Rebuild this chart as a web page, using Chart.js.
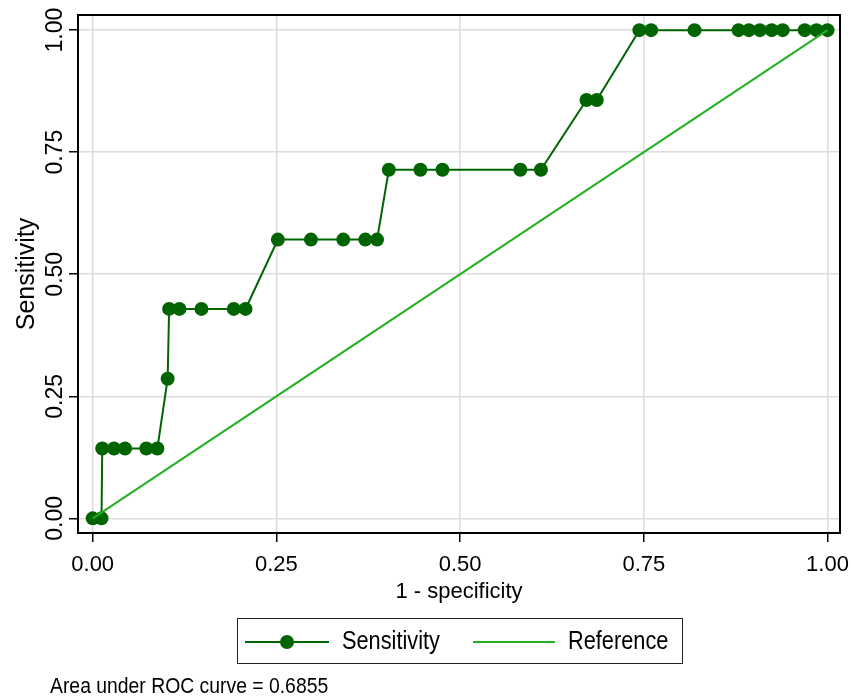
<!DOCTYPE html>
<html>
<head>
<meta charset="utf-8">
<script src="https://cdn.jsdelivr.net/npm/chart.js@4.4.1/dist/chart.umd.min.js"></script>
<style>
  body { margin: 0; background: #fff; }
  #wrap { position: relative; width: 851px; height: 699px; }
  .narrow { font-family: "Liberation Sans", Arial, sans-serif; color: #000; }
  #legend {
    position: absolute; left: 237px; top: 618px; width: 444px; height: 44px;
    border: 1.5px solid #222;
  }
  #legend .ln { position: absolute; top: 22px; height: 2px; }
  #legend .dot { position: absolute; width: 14px; height: 14px; border-radius: 50%; background: #006400; top: -6px; left: 35px; }
  #legend .txt {
    position: absolute; top: 6px; font-size: 25px; line-height: 30px;
    transform: scaleX(0.87); transform-origin: left center; white-space: nowrap;
  }
  #note {
    position: absolute; left: 50px; top: 673px; font-size: 22px; line-height: 26px;
    transform: scaleX(0.88); transform-origin: left center; white-space: nowrap;
  }
</style>
</head>
<body>
<div id="wrap">
  <canvas id="roc"></canvas>
  <div id="legend" class="narrow">
    <div class="ln" style="left:7px;width:84px;background:#006400;"><div class="dot"></div></div>
    <div class="txt" style="left:104px;">Sensitivity</div>
    <div class="ln" style="left:235px;width:82px;background:#22b022;"></div>
    <div class="txt" style="left:330px;">Reference</div>
  </div>
  <div id="note" class="narrow">Area under ROC curve = 0.6855</div>
</div>
<script>
// 1 - specificity / sensitivity
var fpr = [0, 0.012, 0.013, 0.029, 0.044, 0.073, 0.088, 0.102, 0.104, 0.118, 0.148, 0.192, 0.208,
  0.252, 0.297, 0.341, 0.371, 0.387, 0.403, 0.446, 0.476, 0.582, 0.610, 0.672, 0.686,
  0.744, 0.760, 0.819, 0.879, 0.893, 0.908, 0.924, 0.939, 0.969, 0.985, 1];
var sens = [0, 0, 0.143, 0.143, 0.143, 0.143, 0.143, 0.286, 0.429, 0.429, 0.429, 0.429, 0.429,
  0.571, 0.571, 0.571, 0.571, 0.571, 0.714, 0.714, 0.714, 0.714, 0.714, 0.857, 0.857,
  1, 1, 1, 1, 1, 1, 1, 1, 1, 1, 1];
var refX = [0, 1];
var refY = [0, 1];
var tickVals = [0, 0.25, 0.5, 0.75, 1];

var font = "'Liberation Sans', Arial, sans-serif";

function toPoints(xs, ys) {
  var pts = [];
  for (var i = 0; i < xs.length; i++) {
    pts.push({ x: xs[i], y: ys[i] });
  }
  return pts;
}

function setTicks(scale) {
  scale.ticks = tickVals.map(function (v) {
    return { value: v };
  });
}

// stata style box round the plot region
var frame = {
  id: "frame",
  beforeDatasetsDraw: function (chart) {
    var a = chart.chartArea;
    var ctx = chart.ctx;
    ctx.save();
    ctx.strokeStyle = "#000";
    ctx.lineWidth = 2;
    ctx.strokeRect(a.left, a.top, a.right - a.left, a.bottom - a.top);
    ctx.restore();
  },
};

var config = {
  type: "scatter",
  data: {
    datasets: [
      {
        label: "Reference",
        data: toPoints(refX, refY),
        showLine: true,
        borderColor: "#22b022",
        borderWidth: 2,
        pointRadius: 0,
        order: 0,
      },
      {
        label: "Sensitivity",
        data: toPoints(fpr, sens),
        showLine: true,
        borderColor: "#006400",
        borderWidth: 2,
        pointRadius: 7,
        pointBackgroundColor: "#006400",
        pointBorderWidth: 0,
        order: 1,
      },
    ],
  },
  options: {
    responsive: true,
    maintainAspectRatio: false,
    animation: false,
    layout: { padding: { left: 0, top: 15, right: 11, bottom: 94 } },
    plugins: {
      legend: { display: false },
      tooltip: { enabled: false },
    },
    scales: {
      x: {
        type: "linear",
        min: -0.02,
        max: 1.017,
        afterBuildTicks: setTicks,
        afterFit: function (scale) {
          scale.height = 72;
          scale.paddingLeft = 0;
          scale.paddingRight = 0;
        },
        border: { display: false },
        grid: { color: "#dcdcdc", lineWidth: 1.5, tickColor: "#000", tickLength: 9, tickWidth: 1.5 },
        ticks: {
          color: "#000",
          padding: 10,
          font: { family: font, size: 22 },
          callback: function (v) {
            return v.toFixed(2);
          },
        },
        title: {
          display: true,
          text: "1 - specificity",
          color: "#000",
          padding: 0,
          font: { family: font, size: 22 },
        },
      },
      y: {
        type: "linear",
        min: -0.03,
        max: 1.031,
        afterBuildTicks: setTicks,
        afterFit: function (scale) {
          scale.width = 78;
          scale.paddingTop = 0;
          scale.paddingBottom = 0;
        },
        border: { display: false },
        grid: { color: "#dcdcdc", lineWidth: 1.5, tickColor: "#000", tickLength: 9, tickWidth: 1.5 },
        ticks: {
          color: "#000",
          minRotation: 90,
          maxRotation: 90,
          crossAlign: "center",
          padding: -9,
          font: { family: font, size: 23 },
          callback: function (v) {
            return v.toFixed(2);
          },
        },
        title: {
          display: true,
          text: "Sensitivity",
          color: "#000",
          padding: { top: 12, bottom: 0 },
          font: { family: font, size: 25 },
        },
      },
    },
  },
  plugins: [frame],
};

var ctx = document.getElementById("roc").getContext("2d");
window.chart = new Chart(ctx, config);
</script>
</body>
</html>
